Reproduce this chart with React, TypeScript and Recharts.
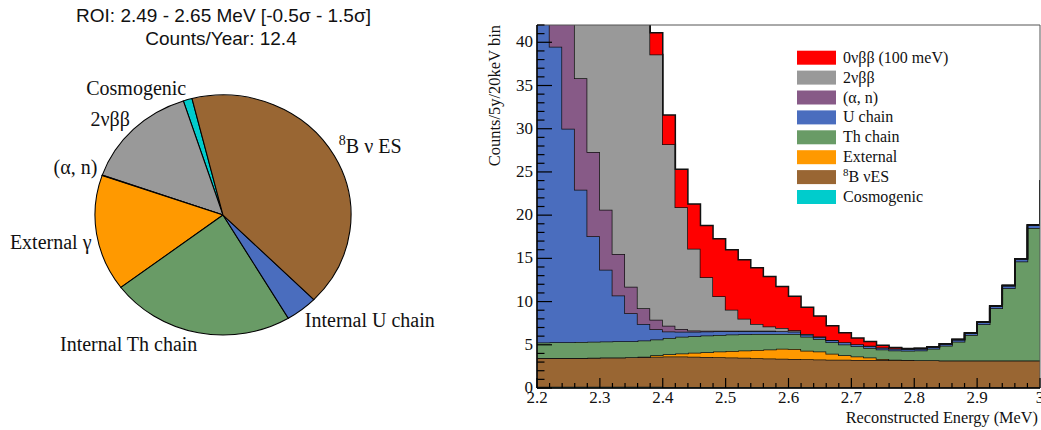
import React from 'react';
import { PieChart, Pie, Cell, AreaChart, Area, XAxis, YAxis, ReferenceArea } from 'recharts';

// ROI pie, counts / year
const PIE_LABELS = ['Cosmogenic', '2νββ', '(α, n)', 'External γ', 'Internal Th chain', 'Internal U chain', '8B ν ES'];
const PIE_VALUES = [0.14, 1.81, 0.01, 1.94, 2.88, 0.5, 5.13];
const PIE_COLORS = ['#00cccc', '#999999', '#875a87', '#ff9900', '#699b66', '#4a6dbe', '#996633'];

// stacked spectrum, counts / 5y / 20 keV bin (last entry = bin starting at 3.00)
const COSMO = [0.14, 0.14, 0.14, 0.14, 0.14, 0.14, 0.14, 0.14, 0.14, 0.14, 0.13, 0.13, 0.13, 0.13, 0.13, 0.12, 0.12, 0.12, 0.12, 0.12, 0.11, 0.11, 0.1, 0.1, 0.09, 0.09, 0.08, 0.08, 0.08, 0.08, 0.08, 0.08, 0.08, 0.08, 0.08, 0.08, 0.08, 0.08, 0.08, 0.08, 0.08];
const B8 = [3.32, 3.32, 3.33, 3.34, 3.36, 3.38, 3.4, 3.43, 3.46, 3.49, 3.52, 3.51, 3.49, 3.47, 3.44, 3.41, 3.37, 3.33, 3.29, 3.26, 3.24, 3.21, 3.2, 3.18, 3.17, 3.16, 3.16, 3.15, 3.14, 3.13, 3.12, 3.12, 3.11, 3.11, 3.1, 3.1, 3.1, 3.09, 3.09, 3.09, 3.08];
const EXT = [0, 0, 0, 0, 0, 0, 0, 0, 0.03, 0.15, 0.25, 0.35, 0.45, 0.55, 0.65, 0.75, 0.85, 0.95, 1.05, 1.15, 1.15, 1.0, 0.92, 0.68, 0.53, 0.4, 0.28, 0.12, 0.05, 0.02, 0, 0, 0, 0, 0, 0, 0, 0, 0, 0, 0];
const TH = [1.8, 1.82, 1.83, 1.85, 1.86, 1.85, 1.86, 1.84, 1.87, 1.84, 1.88, 1.93, 1.93, 1.93, 1.92, 1.9, 1.88, 1.84, 1.8, 1.73, 1.75, 1.6, 1.45, 1.33, 1.25, 1.18, 1.12, 1.1, 1.08, 1.08, 1.15, 1.35, 1.69, 2.17, 2.94, 4.21, 6.04, 8.38, 11.46, 15.33, 20.5];
const UCH = [46.7, 34.2, 24.7, 17.6, 12.2, 8.3, 5.3, 3.25, 1.9, 1.18, 0.75, 0.6, 0.5, 0.45, 0.42, 0.4, 0.38, 0.36, 0.34, 0.3, 0.28, 0.27, 0.26, 0.25, 0.25, 0.24, 0.24, 0.23, 0.23, 0.23, 0.23, 0.23, 0.24, 0.24, 0.25, 0.26, 0.28, 0.3, 0.32, 0.35, 0.38];
const ALPHA = [28, 21, 16.5, 12.9, 9.75, 6.95, 4.8, 3.05, 1.83, 1.1, 0.67, 0.3, 0.15, 0.08, 0.05, 0.03, 0.02, 0.01, 0.01, 0, 0, 0, 0, 0, 0, 0, 0, 0, 0, 0, 0, 0, 0, 0, 0, 0, 0, 0, 0, 0, 0];
const TWONU = [390, 310, 245, 190, 145, 110, 82, 60, 43, 30.7, 21.0, 14.1, 9.45, 6.2, 4.0, 2.45, 1.38, 0.8, 0.5, 0.37, 0.15, 0.07, 0.03, 0.01, 0, 0, 0, 0, 0, 0, 0, 0, 0, 0, 0, 0, 0, 0, 0, 0, 0];
const ZERONU = [0.01, 0.02, 0.04, 0.08, 0.15, 0.3, 0.55, 0.95, 1.6, 2.5, 3.4, 4.4, 5.2, 6.0, 6.65, 6.95, 6.85, 6.5, 5.8, 4.8, 3.95, 3.07, 2.36, 1.64, 1.11, 0.72, 0.49, 0.27, 0.1, 0.04, 0, 0, 0, 0, 0, 0, 0, 0, 0, 0, 0];

// bottom-up stacking order
const SERIES_KEYS = ['cosmo', 'b8', 'ext', 'th', 'u', 'alpha', 'twonu', 'zeronu'];
const SERIES_NAMES = ['Cosmogenic', '8B νES', 'External', 'Th chain', 'U chain', '(α, n)', '2νββ', '0νββ (100 meV)'];
const SERIES_COLORS = ['#00cccc', '#996633', '#ff9900', '#699b66', '#4a6dbe', '#875a87', '#999999', '#ff0000'];
const SERIES_VALUES = [COSMO, B8, EXT, TH, UCH, ALPHA, TWONU, ZERONU];

const X_LABELS = ['2.2', '2.3', '2.4', '2.5', '2.6', '2.7', '2.8', '2.9', '3'];
const Y_LABELS = ['0', '5', '10', '15', '20', '25', '30', '35', '40'];

// 20 keV binning from 2.2 MeV
const BIN_EDGES = COSMO.map((_, i) => +(2.2 + 0.02 * i).toFixed(2));
const Y_TICKS = Array.from({ length: 43 }, (_, i) => i);

const HIST = BIN_EDGES.map((e, i) => {
  const row: Record<string, number> = { e };
  SERIES_KEYS.forEach((k, j) => {
    row[k] = SERIES_VALUES[j][i];
  });
  return row;
});

const PIE_DATA = PIE_LABELS.map((name, i) => ({ name, value: PIE_VALUES[i] }));

const SERIF = '"Liberation Serif", "Times New Roman", serif';
const SANS = '"Liberation Sans", Arial, sans-serif';
const RAD = Math.PI / 180;
const PIE_SX = 1.067; // ROOT pie is slightly elliptical

const renderPieLabel = (p: any) => {
  const { cx, cy, midAngle, outerRadius } = p;
  const name: string = p.name ?? p.payload?.name;
  const r = outerRadius * 1.04;
  const c = Math.cos(-midAngle * RAD);
  const s = Math.sin(-midAngle * RAD);
  const x = cx + r * c;
  const y = cy + r * s;
  const by = s < 0 ? y : y + 14;
  return (
    <text
      x={x}
      y={by}
      textAnchor={c >= 0 ? 'start' : 'end'}
      transform={`translate(${x} 0) scale(${1 / PIE_SX} 1) translate(${-x} 0)`}
      fontFamily={SERIF}
      fontSize={20}
      fill="#111"
    >
      {name.startsWith('8B') ? (
        <>
          <tspan fontSize={14} dy={-8}>8</tspan>
          <tspan dy={8}>{name.slice(1)}</tspan>
        </>
      ) : (
        name
      )}
    </text>
  );
};

const XTick = ({ x, y, index }: any) => {
  const major = index % 5 === 0;
  return (
    <g>
      <line x1={x} x2={x} y1={y} y2={y - (major ? 10 : 5)} stroke="#000" strokeWidth={1.2} />
      {major && (
        <text x={x} y={y + 15.3} textAnchor="middle" fontFamily={SERIF} fontSize={17} fill="#111">
          {X_LABELS[index / 5]}
        </text>
      )}
    </g>
  );
};

const YTick = ({ x, y, payload }: any) => {
  const v = payload.value;
  const major = v % 5 === 0;
  return (
    <g>
      <line x1={x} x2={x + (major ? 15 : 7.5)} y1={y} y2={y} stroke="#000" strokeWidth={1.2} />
      {major && (
        <text x={x - 4} y={y + 5} textAnchor="end" fontFamily={SERIF} fontSize={17} fill="#111">
          {Y_LABELS[v / 5]}
        </text>
      )}
    </g>
  );
};

const renderYTitle = (p: any) => {
  const vb = p.viewBox || { x: 17, y: 25 };
  const x = vb.x + 2.5;
  const y = vb.y;
  return (
    <text
      x={x}
      y={y}
      transform={`rotate(-90 ${x} ${y})`}
      textAnchor="end"
      fontFamily={SERIF}
      fontSize={16.5}
      fill="#111"
    >
      Counts/5y/20keV bin
    </text>
  );
};

const renderXTitle = (p: any) => {
  const vb = p.viewBox || { x: 57, y: 388, width: 503, height: 42 };
  return (
    <text
      x={vb.x + vb.width - 2}
      y={vb.y + 35}
      textAnchor="end"
      fontFamily={SERIF}
      fontSize={16.3}
      fill="#111"
    >
      Reconstructed Energy (MeV)
    </text>
  );
};

const legendOrder = SERIES_KEYS.map((_, i) => i).reverse();

export default function App() {
  return (
    <div style={{ position: 'absolute', left: 0, top: 0, width: 1041, height: 430, background: '#fff', overflow: 'hidden' }}>
      <div
        style={{
          position: 'absolute',
          left: 0,
          top: 0,
          width: 446,
          height: 430,
          transform: `scaleX(${PIE_SX})`,
          transformOrigin: '223px 215px',
        }}
      >
        <PieChart width={446} height={430} margin={{ top: 0, right: 0, bottom: 0, left: 0 }}>
          <Pie
            data={PIE_DATA}
            dataKey="value"
            nameKey="name"
            cx={223}
            cy={215}
            outerRadius={120}
            startAngle={104}
            endAngle={464}
            stroke="#000"
            strokeWidth={1}
            label={renderPieLabel}
            labelLine={false}
            isAnimationActive={false}
          >
            {PIE_DATA.map((d, i) => (
              <Cell key={d.name} fill={PIE_COLORS[i]} />
            ))}
          </Pie>
        </PieChart>
      </div>

      <div style={{ position: 'absolute', left: 480, top: 0 }}>
        <AreaChart width={561} height={430} data={HIST} margin={{ top: 25, right: 1, bottom: 0, left: 17 }}>
          {SERIES_KEYS.map((k, i) => (
            <Area
              key={k}
              dataKey={k}
              name={SERIES_NAMES[i]}
              type="stepAfter"
              stackId="stack"
              stroke="#111"
              strokeWidth={1.5}
              fill={SERIES_COLORS[i]}
              fillOpacity={1}
              dot={false}
              activeDot={false}
              isAnimationActive={false}
            />
          ))}
          <ReferenceArea x1={2.2} x2={3.0} y1={0} y2={42} fill="none" stroke="#555" strokeWidth={1} />
          <XAxis
            dataKey="e"
            type="number"
            domain={[2.2, 3.0]}
            ticks={BIN_EDGES}
            interval={0}
            allowDataOverflow
            height={42}
            tickSize={0}
            tickMargin={0}
            tickLine={false}
            tick={(p: any) => <XTick {...p} />}
            axisLine={{ stroke: '#000', strokeWidth: 1.5 }}
            label={renderXTitle}
          />
          <YAxis
            type="number"
            domain={[0, 42]}
            ticks={Y_TICKS}
            interval={0}
            allowDataOverflow
            width={40}
            tickSize={0}
            tickMargin={0}
            tickLine={false}
            tick={(p: any) => <YTick {...p} />}
            axisLine={{ stroke: '#000', strokeWidth: 1.5 }}
            label={renderYTitle}
          />
        </AreaChart>
      </div>

      <svg width={1041} height={430} style={{ position: 'absolute', left: 0, top: 0, pointerEvents: 'none' }}>
        <text x={223.5} y={21.5} textAnchor="middle" fontFamily={SANS} fontSize={19} fill="#111">
          ROI: 2.49 - 2.65 MeV [-0.5σ - 1.5σ]
        </text>
        <text x={221} y={45} textAnchor="middle" fontFamily={SANS} fontSize={19} fill="#111">
          Counts/Year: 12.4
        </text>
        {legendOrder.map((si, row) => {
          const top = 50.7 + 19.9 * row;
          const name = SERIES_NAMES[si];
          return (
            <g key={SERIES_KEYS[si]}>
              <rect x={797} y={top} width={39} height={14} fill={SERIES_COLORS[si]} />
              <text x={843} y={top + 12} fontFamily={SERIF} fontSize={16} fill="#111">
                {name.startsWith('8B') ? (
                  <>
                    <tspan fontSize={11} dy={-6}>8</tspan>
                    <tspan dy={6}>{name.slice(1)}</tspan>
                  </>
                ) : (
                  name
                )}
              </text>
            </g>
          );
        })}
      </svg>
    </div>
  );
}
